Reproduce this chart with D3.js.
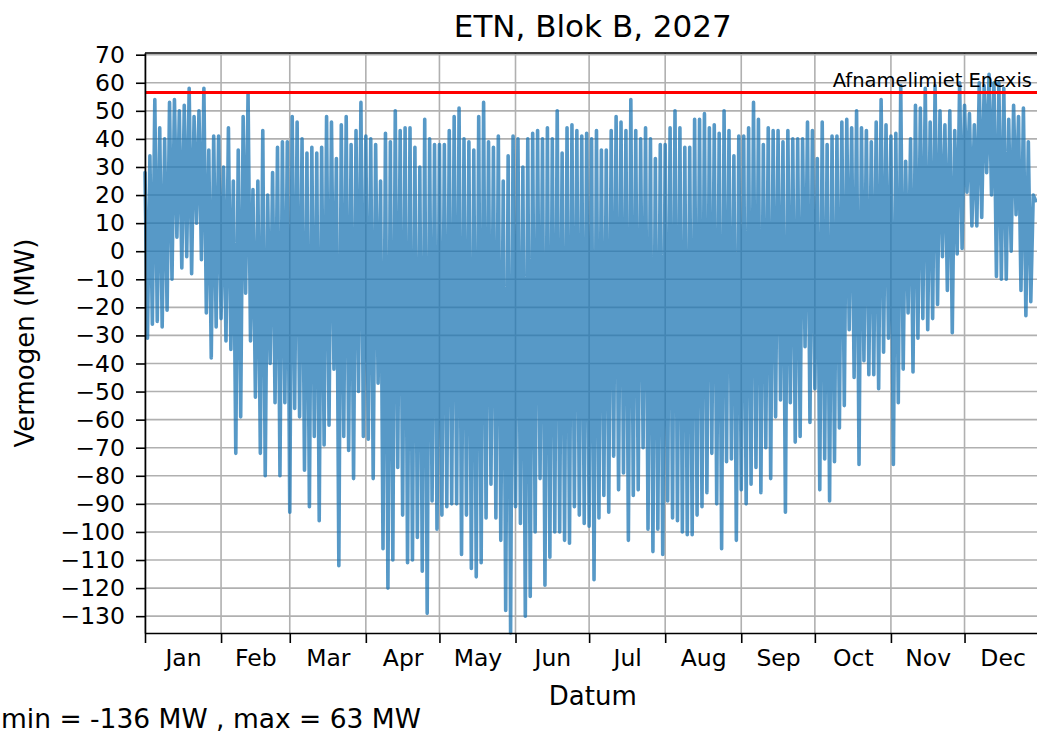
<!DOCTYPE html>
<html lang="en">
<head>
<meta charset="UTF-8">
<title>ETN, Blok B, 2027</title>
<script src="https://d3js.org/d3.v7.min.js"></script>
<style>
  body { margin: 0; background: #fff; }
  svg { display: block; font-family: "DejaVu Sans", sans-serif; }
</style>
</head>
<body>
<div id="chart"></div>
<script>
// chart data
const year = 2027;
const months = ["Jan", "Feb", "Mar", "Apr", "May", "Jun", "Jul", "Aug", "Sep", "Oct", "Nov", "Dec"];
const yTicks = [-130, -120, -110, -100, -90, -80, -70, -60, -50, -40, -30, -20, -10, 0, 10, 20, 30, 40, 50, 60, 70];
const limitMW = 56.5;          // Afnamelimiet Enexis
const minMW = -136, maxMW = 63;
const stepDays = 2;            // one high/low pair every 2 days, from 1 Jan

// upper side of the load band (MW)
const highMW = [
  28, 34, 54, 44, 40, 53, 54, 50, 52, 58,
  48, 50, 58, 36, 41, 41, 30, 44, 25, 36,
  48, 56, 22, 25, 43, 20, 28, 37, 39, 39,
  48, 46, 40, 35, 37, 35, 37, 48, 46, 33,
  45, 48, 38, 43, 53, 41, 40, 38, 25, 42,
  39, 50, 43, 44, 44, 37, 30, 47, 40, 38,
  38, 38, 43, 48, 51, 40, 39, 36, 48, 53,
  39, 37, 41, 25, 34, 41, 40, 30, 40, 42,
  43, 40, 44, 40, 50, 35, 44, 45, 43, 41,
  42, 40, 43, 36, 36, 43, 48, 46, 43, 54,
  43, 40, 44, 40, 33, 38, 38, 44, 50, 44,
  37, 37, 47, 47, 49, 44, 45, 42, 50, 43,
  34, 41, 41, 44, 53, 47, 38, 44, 43, 43,
  39, 43, 40, 40, 40, 46, 43, 33, 46, 38,
  41, 41, 46, 47, 44, 50, 44, 43, 39, 46,
  54, 45, 41, 42, 59, 32, 40, 52, 51, 58,
  46, 59, 50, 45, 50, 43, 60, 52, 49, 45,
  60, 59, 63, 60, 60, 58, 47, 52, 48, 51,
  39, 20
];

// lower side of the load band (MW)
const lowMW = [
  -31, -26, -25, -27, -21, -10, 5, -6, -2, -8,
  10, -3, -22, -38, -27, -24, -32, -35, -72, -59,
  -15, -32, -52, -72, -80, -40, -54, -80, -54, -93,
  -56, -59, -78, -91, -66, -96, -69, -62, -42, -112,
  -66, -71, -81, -50, -66, -67, -81, -47, -106, -120,
  -110, -77, -94, -111, -110, -102, -114, -129, -89, -99,
  -94, -91, -90, -90, -108, -94, -113, -116, -111, -95,
  -83, -95, -103, -128, -136, -91, -97, -130, -123, -100,
  -81, -119, -109, -100, -100, -103, -104, -91, -94, -97,
  -98, -117, -95, -87, -93, -73, -85, -79, -103, -87,
  -85, -70, -99, -107, -99, -108, -89, -95, -96, -100,
  -101, -101, -94, -91, -86, -72, -90, -106, -75, -74,
  -103, -85, -90, -83, -77, -86, -70, -81, -59, -53,
  -93, -54, -68, -66, -34, -61, -49, -85, -74, -89,
  -75, -63, -55, -28, -45, -76, -39, -44, -44, -49,
  -36, -31, -76, -54, -42, -22, -43, -31, -24, -28,
  -24, -19, -2, -14, -29, -1, 1, 21, 9, 9,
  12, 28, 20, -9, -10, -10, 0, 13, -14, -23,
  -18, 18
];

const width = 1037, height = 736;
const plot = { left: 145, right: 1040.6, top: 53, bottom: 633 };

const svg = d3.select("#chart").append("svg")
    .attr("width", width)
    .attr("height", height);

const start = new Date(Date.UTC(year, 0, 1));
const end = new Date(Date.UTC(year + 1, 0, 1));

const x = d3.scaleUtc().domain([start, end]).range([plot.left, plot.right]);
const y = d3.scaleLinear().domain([minMW, 70.6]).range([plot.bottom, plot.top]);

const monthStarts = d3.utcMonths(start, end);
const monthMids = monthStarts.map(d => new Date((+d + +d3.utcMonth.offset(d, 1)) / 2));

// grid
const grid = svg.append("g").attr("stroke", "#b0b0b0").attr("stroke-width", 1.6);
grid.selectAll(".vg").data(monthStarts).join("line")
    .attr("x1", d => x(d)).attr("x2", d => x(d))
    .attr("y1", plot.top).attr("y2", plot.bottom);
grid.selectAll(".hg").data(yTicks).join("line")
    .attr("x1", plot.left).attr("x2", plot.right)
    .attr("y1", d => y(d)).attr("y2", d => y(d));

// the load curve: high and low of each sample, zigzag
const points = [];
highMW.forEach((v, i) => {
    const day = d3.utcDay.offset(start, i * stepDays);
    points.push([day, v]);
    points.push([d3.utcDay.offset(day, 1), lowMW[i]]);
});

svg.append("path")
    .datum(points)
    .attr("fill", "none")
    .attr("stroke", "#1f77b4")
    .attr("stroke-opacity", 0.75)
    .attr("stroke-width", 3.6)
    .attr("stroke-linejoin", "round")
    .attr("stroke-linecap", "round")
    .attr("d", d3.line().x(d => x(d[0])).y(d => y(d[1])));

// limit line
svg.append("line")
    .attr("x1", plot.left).attr("x2", plot.right)
    .attr("y1", y(limitMW)).attr("y2", y(limitMW))
    .attr("stroke", "#ff0000")
    .attr("stroke-width", 3);

svg.append("text")
    .attr("x", x(end) - 8.6)
    .attr("y", y(limitMW) - 6)
    .attr("text-anchor", "end")
    .attr("font-size", 19.5)
    .text("Afnamelimiet Enexis");

// axes
const yAxis = svg.append("g")
    .attr("transform", `translate(${plot.left},0)`)
    .call(d3.axisLeft(y).tickValues(yTicks).tickSize(9).tickSizeOuter(0).tickPadding(11)
        .tickFormat(d3.format("d")));

const xAxis = svg.append("g")
    .attr("transform", `translate(0,${plot.bottom})`)
    .call(d3.axisBottom(x).tickValues(monthStarts).tickSize(10).tickSizeOuter(0).tickFormat(""));

const xLabels = svg.append("g")
    .attr("transform", `translate(0,${plot.bottom})`)
    .call(d3.axisBottom(x).tickValues(monthMids).tickSize(0).tickPadding(16)
        .tickFormat((d, i) => months[i]));
xLabels.select(".domain").remove();

[yAxis, xAxis, xLabels].forEach(g => {
    g.selectAll("text").attr("font-size", 23.5).attr("font-family", "DejaVu Sans").attr("fill", "#000");
    g.selectAll("line").attr("stroke", "#000").attr("stroke-width", 1.6);
    g.selectAll(".domain").attr("stroke", "#000").attr("stroke-width", 1.6);
});

// top spine
svg.append("line")
    .attr("x1", plot.left).attr("x2", plot.right)
    .attr("y1", plot.top).attr("y2", plot.top)
    .attr("stroke", "#000").attr("stroke-width", 1.6);

// titles
svg.append("text")
    .attr("x", (plot.left + plot.right) / 2)
    .attr("y", 37)
    .attr("text-anchor", "middle")
    .attr("font-size", 31)
    .text(`ETN, Blok B, ${year}`);

svg.append("text")
    .attr("x", (plot.left + plot.right) / 2)
    .attr("y", 705)
    .attr("text-anchor", "middle")
    .attr("font-size", 26)
    .text("Datum");

svg.append("text")
    .attr("transform", `translate(34,${(plot.top + plot.bottom) / 2}) rotate(-90)`)
    .attr("text-anchor", "middle")
    .attr("font-size", 26)
    .text("Vermogen (MW)");

svg.append("text")
    .attr("x", 1)
    .attr("y", 728)
    .attr("font-size", 26.5)
    .text(`min = ${minMW} MW , max = ${maxMW} MW`);
</script>
</body>
</html>
